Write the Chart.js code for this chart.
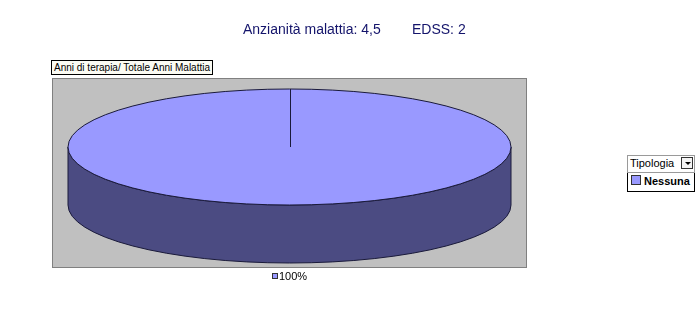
<!DOCTYPE html>
<html><head><meta charset="utf-8">
<script src="https://cdn.jsdelivr.net/npm/chart.js@4"></script>
<style>
html,body{margin:0;padding:0;background:#fff;}
#wrap{position:relative;width:700px;height:314px;overflow:hidden;}
canvas{position:absolute;left:0;top:0;}
.box{position:absolute;font-family:"Liberation Sans",Arial,sans-serif;color:#000;box-sizing:border-box;}
#fieldLabel{left:51px;top:60px;height:15px;padding:0 2px;border:1px solid #000;background:#fbfbf3;font-size:10px;line-height:13px;white-space:nowrap;}
#legend{left:627px;top:155px;width:68px;}
#legend .hdr{position:relative;height:16px;border:1px solid #9a9a9a;background:#fff;font-size:11px;line-height:14px;padding-left:2px;}
#legend .btn{position:absolute;right:1px;top:1px;width:12px;height:12px;border:1px solid #333;background:#f4f4f4;box-sizing:border-box;}
#legend .btn:after{content:"";position:absolute;left:3px;top:4px;border-left:3px solid transparent;border-right:3px solid transparent;border-top:3px solid #000;}
#legend .row{height:18px;border:1px solid #000;border-top:none;background:#fff;font-size:11px;font-weight:bold;line-height:17px;padding-left:3px;white-space:nowrap;}
#legend .sw{display:inline-block;width:8px;height:8px;border:1px solid #333;vertical-align:0px;margin-right:3px;}
</style></head><body>
<div id="wrap"><canvas id="c" width="700" height="314"></canvas>
<div id="fieldLabel" class="box"></div>
<div id="legend" class="box"></div>
</div>
<script>
// ---- data ----
const categories = ['Nessuna'];
const values = [100];
const titleLeft = 'Anzianità malattia: 4,5';
const titleRight = 'EDSS: 2';
const fieldLabel = 'Anni di terapia/ Totale Anni Malattia';
const legendTitle = 'Tipologia';

// ---- styles ----
const topColors = ['#9999ff'];
const sideColors = ['#4b4b82'];
const plotBox = {left:52, top:78, right:527, bottom:268};
const depth = 58;

document.getElementById('fieldLabel').textContent = fieldLabel;
const lg = document.getElementById('legend');
let html = '<div class="hdr">' + legendTitle + '<span class="btn"></span></div>';
categories.forEach((c,i)=>{ html += '<div class="row"><span class="sw" style="background:'+topColors[i]+'"></span>'+c+'</div>'; });
lg.innerHTML = html;

const pie3d = {
  id: 'pie3d',
  beforeDraw(chart){
    const ctx = chart.ctx;
    ctx.save();
    ctx.fillStyle = '#c0c0c0';
    ctx.fillRect(plotBox.left, plotBox.top, plotBox.right-plotBox.left, plotBox.bottom-plotBox.top);
    ctx.strokeStyle = '#808080'; ctx.lineWidth = 1;
    ctx.strokeRect(plotBox.left+0.5, plotBox.top+0.5, plotBox.right-plotBox.left-1, plotBox.bottom-plotBox.top-1);
    ctx.restore();
  },
  beforeDatasetsDraw(chart){
    const a = chart.chartArea;
    const arc = chart.getDatasetMeta(0).data[0];
    const cx = arc.x, cy = arc.y, ry = arc.outerRadius, rx = a.width/2;
    const ctx = chart.ctx;
    ctx.save();
    ctx.beginPath();
    ctx.ellipse(cx, cy, rx, ry, 0, 0, Math.PI, false);
    ctx.lineTo(cx - rx, cy + depth);
    ctx.ellipse(cx, cy + depth, rx, ry, 0, Math.PI, 0, true);
    ctx.closePath();
    ctx.fillStyle = sideColors[0];
    ctx.fill();
    ctx.strokeStyle = '#1a1a3a'; ctx.lineWidth = 1;
    ctx.stroke();
    ctx.restore();
    ctx.save();
    ctx.translate(cx, 0);
    ctx.scale(rx/ry, 1);
    ctx.translate(-cx, 0);
  },
  afterDatasetsDraw(chart){
    const ctx = chart.ctx;
    ctx.restore();
    const a = chart.chartArea;
    const arc = chart.getDatasetMeta(0).data[0];
    const cx = arc.x, cy = arc.y, ry = arc.outerRadius, rx = a.width/2;
    ctx.save();
    ctx.strokeStyle = '#1a1a3a'; ctx.lineWidth = 1;
    ctx.beginPath();
    ctx.ellipse(cx, cy, rx, ry, 0, 0, Math.PI*2);
    ctx.stroke();
    ctx.beginPath();
    const sa = arc.startAngle;
    ctx.moveTo(Math.round(cx)+0.5, cy);
    ctx.lineTo(Math.round(cx + rx*Math.cos(sa))+0.5, cy + ry*Math.sin(sa));
    ctx.stroke();
    // data label
    const total = values.reduce((s,v)=>s+v,0);
    const txt = Math.round(values[0]/total*100) + '%';
    ctx.font = '11px "Liberation Sans", Arial, sans-serif';
    const tw = ctx.measureText(txt).width;
    const w = 6 + 1 + tw;
    const x0 = Math.round(cx - w/2);
    const ly = plotBox.bottom + 8;
    ctx.fillStyle = topColors[0];
    ctx.fillRect(x0, ly-3, 5, 5);
    ctx.strokeStyle = '#333';
    ctx.strokeRect(x0+0.5, ly-3+0.5, 5, 5);
    ctx.fillStyle = '#000';
    ctx.textBaseline = 'middle';
    ctx.fillText(txt, x0 + 7, ly + 1);
    // title
    ctx.font = '14px "Liberation Sans", Arial, sans-serif';
    ctx.fillStyle = '#14146b';
    ctx.textBaseline = 'alphabetic';
    ctx.fillText(titleLeft, 243, 34);
    ctx.fillText(titleRight, 412, 34);
    ctx.restore();
  }
};

new Chart(document.getElementById('c'), {
  type: 'pie',
  data: { labels: categories, datasets: [{ data: values, backgroundColor: topColors, borderWidth: 0 }] },
  options: {
    responsive: false,
    animation: false,
    events: [],
    layout: { padding: { left: 68, right: 189, top: 89, bottom: 109 } },
    plugins: { legend: { display: false }, tooltip: { enabled: false }, title: { display: false } }
  },
  plugins: [pie3d]
});
</script>
</body></html>
